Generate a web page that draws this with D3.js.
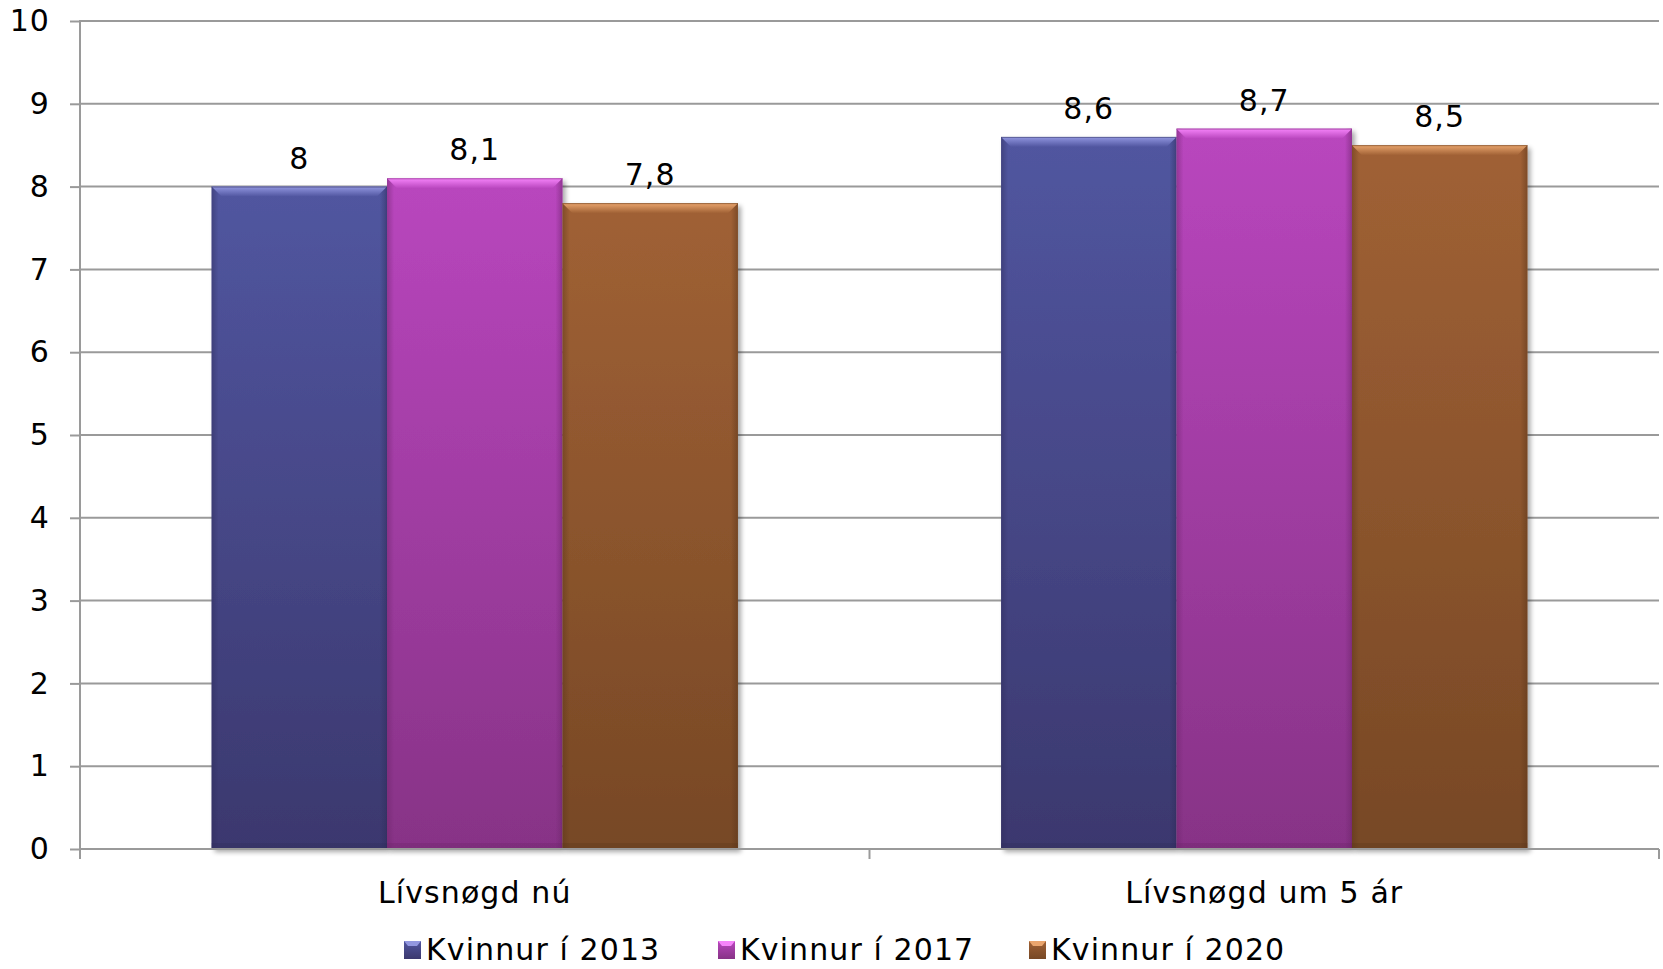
<!DOCTYPE html>
<html><head><meta charset="utf-8">
<script src="https://cdn.jsdelivr.net/npm/d3@7"></script>
<style>
html,body{margin:0;padding:0;background:#fff;}
svg{display:block;font-family:Verdana,"DejaVu Sans",sans-serif;}
</style></head>
<body>
<svg id="chart" width="1663" height="969"></svg>
<script>
const categories = ["Lívsnøgd nú", "Lívsnøgd um 5 ár"];
const seriesNames = ["Kvinnur í 2013", "Kvinnur í 2017", "Kvinnur í 2020"];
const values2013 = [8, 8.6];
const values2017 = [8.1, 8.7];
const values2020 = [7.8, 8.5];
const valueLabels = [["8", "8,6"], ["8,1", "8,7"], ["7,8", "8,5"]];
const yTicks = [0,1,2,3,4,5,6,7,8,9,10];

const seriesValues = [values2013, values2017, values2020];
const palette = [
  {top:"#5156a0", bot:"#3b386e", bevel:"#9297e0", edge:"#2e2c5a"},
  {top:"#b946be", bot:"#873386", bevel:"#f684fa", edge:"#6a2468"},
  {top:"#a06135", bot:"#774825", bevel:"#eaa56d", edge:"#5a351a"}
];

const FS = 30, LS = 1.1;
const svg = d3.select("#chart");
const W = 1663, H = 969;
const m = {left:80, right:4, top:21, bottom:120};
const plotR = W - m.right, plotB = 849;

const y = d3.scaleLinear().domain([0,10]).range([plotB, m.top]);
const x0 = d3.scaleBand().domain(categories).range([m.left, plotR]).padding(0);
const barW = x0.bandwidth() / 4.5;
const x1 = d3.scaleBand().domain(seriesNames).range([0.75*barW, 3.75*barW]).padding(0);

const defs = svg.append("defs");
palette.forEach((p,i)=>{
  const g = defs.append("linearGradient").attr("id","g"+i).attr("x1",0).attr("y1",0).attr("x2",0).attr("y2",1);
  g.append("stop").attr("offset","0%").attr("stop-color",p.top);
  g.append("stop").attr("offset","100%").attr("stop-color",p.bot);
  const hb = defs.append("linearGradient").attr("id","h"+i).attr("x1",0).attr("y1",0).attr("x2",1).attr("y2",0);
  hb.append("stop").attr("offset","0%").attr("stop-color",p.edge).attr("stop-opacity",0.45);
  hb.append("stop").attr("offset","4%").attr("stop-color",p.edge).attr("stop-opacity",0);
  hb.append("stop").attr("offset","96%").attr("stop-color",p.edge).attr("stop-opacity",0);
  hb.append("stop").attr("offset","100%").attr("stop-color",p.edge).attr("stop-opacity",0.5);
  const bv = defs.append("linearGradient").attr("id","b"+i).attr("x1",0).attr("y1",0).attr("x2",0).attr("y2",1);
  bv.append("stop").attr("offset","0%").attr("stop-color",p.bevel);
  bv.append("stop").attr("offset","100%").attr("stop-color",p.top);
});
const sh = defs.append("filter").attr("id","shadow").attr("x","-5%").attr("y","-5%").attr("width","115%").attr("height","115%");
sh.append("feGaussianBlur").attr("in","SourceAlpha").attr("stdDeviation",2.5).attr("result","b");
sh.append("feOffset").attr("in","b").attr("dx",3).attr("dy",3).attr("result","o");
sh.append("feComponentTransfer").attr("in","o").attr("result","o2").append("feFuncA").attr("type","linear").attr("slope",0.35);
const mg = sh.append("feMerge"); mg.append("feMergeNode").attr("in","o2"); mg.append("feMergeNode").attr("in","SourceGraphic");

// gridlines
svg.append("g").selectAll("line").data(yTicks).join("line")
  .attr("x1", m.left).attr("x2", plotR)
  .attr("y1", d=>y(d)).attr("y2", d=>y(d))
  .attr("stroke","#9a9a9a").attr("stroke-width",2);

// y axis
const yAxis = svg.append("g").attr("transform",`translate(${m.left},0)`)
  .call(d3.axisLeft(y).tickValues(yTicks).tickSize(10).tickPadding(20).tickFormat(d3.format("d")));
yAxis.selectAll("line").attr("stroke","#9a9a9a").attr("stroke-width",2);
yAxis.select(".domain").attr("stroke","#9a9a9a").attr("stroke-width",2).attr("d",`M0,${m.top-1}V${plotB+10}`);
yAxis.selectAll("text").attr("font-size",FS).attr("letter-spacing",LS).attr("fill","#000").attr("font-family","Verdana, 'DejaVu Sans', sans-serif");

// bars
const data = [];
categories.forEach((c,ci)=>seriesNames.forEach((s,si)=>data.push({c,s,si,v:seriesValues[si][ci],lab:valueLabels[si][ci]})));

const bars = svg.append("g").selectAll("g").data(data).join("g")
  .attr("transform", d=>`translate(${x0(d.c)+x1(d.s)},0)`);
bars.append("rect")
  .attr("x",0).attr("width",x1.bandwidth())
  .attr("y",d=>y(d.v)).attr("height",d=>plotB-y(d.v))
  .attr("fill",d=>`url(#g${d.si})`).attr("filter","url(#shadow)");
bars.append("rect")
  .attr("x",0).attr("width",x1.bandwidth())
  .attr("y",d=>y(d.v)).attr("height",d=>plotB-y(d.v))
  .attr("fill",d=>`url(#h${d.si})`);
// top bevel
const bev = 10;
bars.append("path")
  .attr("d",d=>{const t=y(d.v), w=x1.bandwidth();return `M0,${t}H${w}L${w-bev},${t+bev}H${bev}Z`;})
  .attr("fill",d=>`url(#b${d.si})`);
bars.append("line")
  .attr("x1",0).attr("x2",x1.bandwidth()).attr("y1",d=>y(d.v)+0.5).attr("y2",d=>y(d.v)+0.5)
  .attr("stroke",d=>palette[d.si].edge).attr("stroke-opacity",0.5).attr("stroke-width",1);
// bottom darker strip
bars.append("rect").attr("x",0).attr("width",x1.bandwidth())
  .attr("y",plotB-6).attr("height",6).attr("fill",d=>palette[d.si].edge).attr("opacity",0.3);

// value labels
bars.append("text")
  .attr("x",x1.bandwidth()/2).attr("y",d=>y(d.v)-18)
  .attr("text-anchor","middle").attr("font-size",FS).attr("letter-spacing",LS).attr("fill","#000")
  .text(d=>d.lab);

// x axis
const xAxisG = svg.append("g");
xAxisG.append("line").attr("x1",m.left).attr("x2",plotR).attr("y1",plotB).attr("y2",plotB)
  .attr("stroke","#9a9a9a").attr("stroke-width",2);
const bounds = categories.map(c=>x0(c)).concat([x0(categories[categories.length-1])+x0.bandwidth()]);
xAxisG.selectAll(".tk").data(bounds).join("line").attr("class","tk")
  .attr("x1",d=>d).attr("x2",d=>d).attr("y1",plotB).attr("y2",plotB+10)
  .attr("stroke","#9a9a9a").attr("stroke-width",2);
xAxisG.selectAll("text").data(categories).join("text")
  .attr("x",d=>x0(d)+x0.bandwidth()/2).attr("y",903)
  .attr("text-anchor","middle").attr("font-size",FS).attr("letter-spacing",LS).attr("fill","#000").text(d=>d);

// legend
const legendX = [404, 718, 1029];
const lg = svg.append("g").selectAll("g").data(seriesNames).join("g")
  .attr("transform",(d,i)=>`translate(${legendX[i]},941)`);
lg.append("rect").attr("width",17).attr("height",18).attr("fill",(d,i)=>`url(#g${i})`);
lg.append("path").attr("d","M0,0H17L13,5H4Z").attr("fill",(d,i)=>palette[i].bevel);
lg.append("text").attr("x",22).attr("y",19).attr("font-size",FS).attr("letter-spacing",LS).attr("fill","#000").text(d=>d);
</script>
</body></html>
